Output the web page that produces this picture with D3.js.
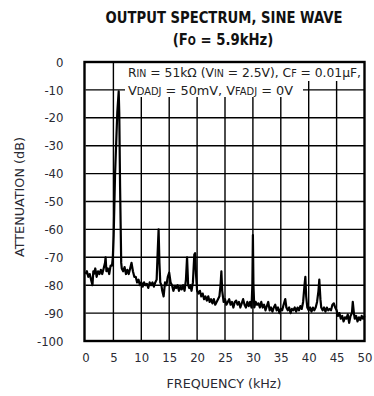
<!DOCTYPE html>
<html>
<head>
<meta charset="utf-8">
<script src="https://cdn.jsdelivr.net/npm/d3@7"></script>
<style>
  body { margin: 0; background: #fff; }
  svg { display: block; }
  text { font-family: "DejaVu Sans Condensed", "DejaVu Sans", sans-serif; font-stretch: condensed; }
</style>
</head>
<body>
<div id="chart"></div>
<script>
// axis ticks
const freqTicks = [0, 5, 10, 15, 20, 25, 30, 35, 40, 45, 50];
const dbTicks = [0, -10, -20, -30, -40, -50, -60, -70, -80, -90, -100];

// spectrum trace: [frequency kHz, attenuation dB]
const spectrum = [
  [0, -76], [0.25, -75], [0.5, -77], [0.75, -76], [1.0, -78], [1.25, -80], [1.4, -75], [1.5, -76],
  [1.75, -74], [2.0, -77], [2.25, -75], [2.5, -76], [2.75, -74.5], [3.0, -76], [3.25, -74],
  [3.5, -72], [3.6, -70], [3.75, -75], [4.0, -74], [4.25, -76], [4.5, -73], [4.75, -73], [4.9, -70],
  [5.05, -62], [5.3, -40], [5.7, -18], [5.95, -10.5], [6.05, -18], [6.2, -45], [6.4, -72],
  [6.5, -74], [6.75, -75], [7.0, -73.5], [7.25, -76], [7.5, -74.5], [7.75, -76], [8.0, -74],
  [8.25, -72], [8.5, -75], [8.75, -77], [9.0, -77], [9.25, -79], [9.5, -78], [9.75, -80],
  [10.0, -79], [10.25, -80.5], [10.5, -79], [10.75, -80], [11.0, -79.5], [11.25, -81],
  [11.5, -79], [11.75, -80], [12.0, -79], [12.25, -80.5], [12.5, -79], [12.75, -78],
  [12.9, -70], [13.1, -60], [13.25, -72], [13.4, -79], [13.6, -80], [13.75, -82], [14.0, -84],
  [14.25, -79], [14.5, -80], [14.75, -77], [15.0, -75.5], [15.25, -79], [15.5, -80],
  [15.75, -82], [16.0, -80.5], [16.25, -81], [16.5, -80], [16.75, -82], [17.0, -80.5],
  [17.25, -81.5], [17.5, -80], [17.75, -82], [18.0, -78], [18.2, -70], [18.4, -80], [18.6, -81],
  [18.8, -80], [19.0, -82], [19.25, -79], [19.5, -69], [19.65, -68.5], [19.8, -76], [20.0, -82],
  [20.25, -83], [20.5, -82], [20.75, -84], [21.0, -83], [21.25, -85], [21.5, -84], [21.75, -85.5],
  [22.0, -84], [22.25, -86], [22.5, -85], [22.75, -86.5], [23.0, -85], [23.25, -87], [23.5, -86],
  [23.75, -85], [24.0, -84], [24.2, -80], [24.35, -75], [24.5, -82], [24.75, -86], [25.0, -85],
  [25.25, -87], [25.5, -86], [25.75, -85], [26.0, -87], [26.25, -86], [26.5, -88], [26.75, -86],
  [27.0, -85.5], [27.25, -87], [27.5, -86], [27.75, -88], [28.0, -86.5], [28.25, -85],
  [28.5, -87], [28.75, -88], [29.0, -86], [29.25, -87.5], [29.5, -86], [29.75, -88],
  [29.9, -80], [30.0, -62], [30.1, -80], [30.25, -88], [30.5, -86], [30.75, -87], [31.0, -86.5],
  [31.25, -88], [31.5, -86], [31.75, -88], [32.0, -87], [32.25, -89], [32.5, -87.5], [32.75, -86],
  [33.0, -89], [33.25, -88], [33.5, -89.5], [33.75, -88], [34.0, -87], [34.25, -89], [34.5, -88],
  [34.75, -90], [35.0, -88.5], [35.25, -89], [35.5, -87], [35.8, -85], [36.0, -88], [36.25, -89],
  [36.5, -88], [36.75, -90], [37.0, -88.5], [37.25, -89], [37.5, -88], [37.75, -89.5], [38.0, -88],
  [38.25, -89], [38.5, -87.5], [38.75, -88.5], [39.0, -86], [39.25, -80], [39.4, -77], [39.55, -84],
  [39.75, -88], [40.0, -89], [40.25, -88], [40.5, -89.5], [40.75, -88], [41.0, -89], [41.25, -88],
  [41.5, -86], [41.75, -82], [41.9, -78], [42.1, -85], [42.25, -88], [42.5, -89], [42.75, -88],
  [43.0, -89.5], [43.25, -88], [43.5, -89], [43.75, -88.5], [44.0, -89], [44.25, -87], [44.5, -86.5],
  [44.75, -88], [45.0, -89], [45.25, -91], [45.5, -90], [45.75, -92], [46.0, -91], [46.25, -93],
  [46.5, -91.5], [46.75, -92], [47.0, -90.5], [47.25, -93.5], [47.5, -91], [47.75, -90], [47.9, -86],
  [48.1, -90], [48.25, -92], [48.5, -91], [48.75, -93], [49.0, -91.5], [49.25, -92.5], [49.5, -91],
  [49.75, -92], [50, -91]
];

const width = 374;
const height = 396;
const plot = { left: 85.5, right: 364.5, top: 62, bottom: 341 };
const labelColor = '#2a2a33';

const svg = d3.select('#chart')
  .append('svg')
  .attr('width', width)
  .attr('height', height);

const x = d3.scaleLinear().domain([0, 50]).range([plot.left, plot.right]);
const y = d3.scaleLinear().domain([0, -100]).range([plot.top, plot.bottom]);

// title, squeezed horizontally like the condensed original
svg.append('text')
  .attr('transform', 'translate(224,23) scale(0.89,1)')
  .attr('text-anchor', 'middle')
  .attr('font-size', 16.5).attr('font-weight', 'bold')
  .attr('fill', '#111')
  .text('OUTPUT SPECTRUM, SINE WAVE');

const sub = svg.append('text')
  .attr('transform', 'translate(223,45) scale(0.92,1)')
  .attr('text-anchor', 'middle')
  .attr('font-size', 16).attr('font-weight', 'bold')
  .attr('fill', '#111');
sub.append('tspan').text('(F');
sub.append('tspan').attr('font-size', 11.5).text('O');
sub.append('tspan').text(' = 5.9kHz)');

// grid
const grid = svg.append('g').attr('stroke', '#000').attr('stroke-width', 1.4);
grid.selectAll('.vx')
  .data(freqTicks.slice(1, -1))
  .enter().append('line')
  .attr('x1', (d) => x(d)).attr('x2', (d) => x(d))
  .attr('y1', plot.top).attr('y2', plot.bottom);
grid.selectAll('.hy')
  .data(dbTicks.slice(1, -1))
  .enter().append('line')
  .attr('x1', plot.left).attr('x2', plot.right)
  .attr('y1', (d) => y(d)).attr('y2', (d) => y(d));

// trace
const line = d3.line()
  .x((d) => x(d[0]))
  .y((d) => y(d[1]));

svg.append('path')
  .datum(spectrum)
  .attr('d', line)
  .attr('fill', 'none')
  .attr('stroke', '#000')
  .attr('stroke-width', 2.2)
  .attr('stroke-linejoin', 'round');

// annotation with white background
svg.append('rect').attr('x', 125).attr('y', 63).attr('width', 238).attr('height', 18).attr('fill', '#fff');
svg.append('rect').attr('x', 125).attr('y', 81).attr('width', 178).attr('height', 16).attr('fill', '#fff');

const note1 = svg.append('text')
  .attr('x', 128).attr('y', 77)
  .attr('font-size', 13).attr('fill', '#222')
  .attr('textLength', 233).attr('lengthAdjust', 'spacingAndGlyphs');
note1.append('tspan').text('R');
note1.append('tspan').attr('font-size', 10).text('IN');
note1.append('tspan').text(' = 51kΩ (V');
note1.append('tspan').attr('font-size', 10).text('IN');
note1.append('tspan').text(' = 2.5V), C');
note1.append('tspan').attr('font-size', 10).text('F');
note1.append('tspan').text(' = 0.01µF,');

const note2 = svg.append('text')
  .attr('x', 128).attr('y', 95)
  .attr('font-size', 13).attr('fill', '#222')
  .attr('textLength', 165).attr('lengthAdjust', 'spacingAndGlyphs');
note2.append('tspan').text('V');
note2.append('tspan').attr('font-size', 10).text('DADJ');
note2.append('tspan').text(' = 50mV, V');
note2.append('tspan').attr('font-size', 10).text('FADJ');
note2.append('tspan').text(' = 0V');

// frame
svg.append('rect')
  .attr('x', plot.left - 1).attr('y', plot.top)
  .attr('width', plot.right - plot.left + 1).attr('height', plot.bottom - plot.top)
  .attr('fill', 'none').attr('stroke', '#000').attr('stroke-width', 2.4);

// axes
const yAxis = svg.append('g')
  .attr('transform', `translate(${plot.left},0)`)
  .call(d3.axisLeft(y).tickValues(dbTicks).tickSize(0).tickPadding(22).tickFormat((d) => String(d)));
const xAxis = svg.append('g')
  .attr('transform', `translate(0,${plot.bottom})`)
  .call(d3.axisBottom(x).tickValues(freqTicks).tickSize(0).tickPadding(12).tickFormat((d) => String(d)));
[yAxis, xAxis].forEach((g) => {
  g.select('.domain').remove();
  g.selectAll('text')
    .attr('font-size', 13)
    .attr('fill', labelColor)
    .style('font-family', '"DejaVu Sans Condensed", "DejaVu Sans", sans-serif')
    .style('font-stretch', 'condensed');
});

// axis titles
svg.append('text')
  .attr('transform', 'translate(24,197) rotate(-90)')
  .attr('text-anchor', 'middle')
  .attr('font-size', 12).attr('fill', labelColor)
  .attr('textLength', 120).attr('lengthAdjust', 'spacingAndGlyphs')
  .text('ATTENUATION (dB)');

svg.append('text')
  .attr('x', 224).attr('y', 388)
  .attr('text-anchor', 'middle')
  .attr('font-size', 12).attr('fill', labelColor)
  .attr('textLength', 115).attr('lengthAdjust', 'spacingAndGlyphs')
  .text('FREQUENCY (kHz)');
</script>
</body>
</html>
